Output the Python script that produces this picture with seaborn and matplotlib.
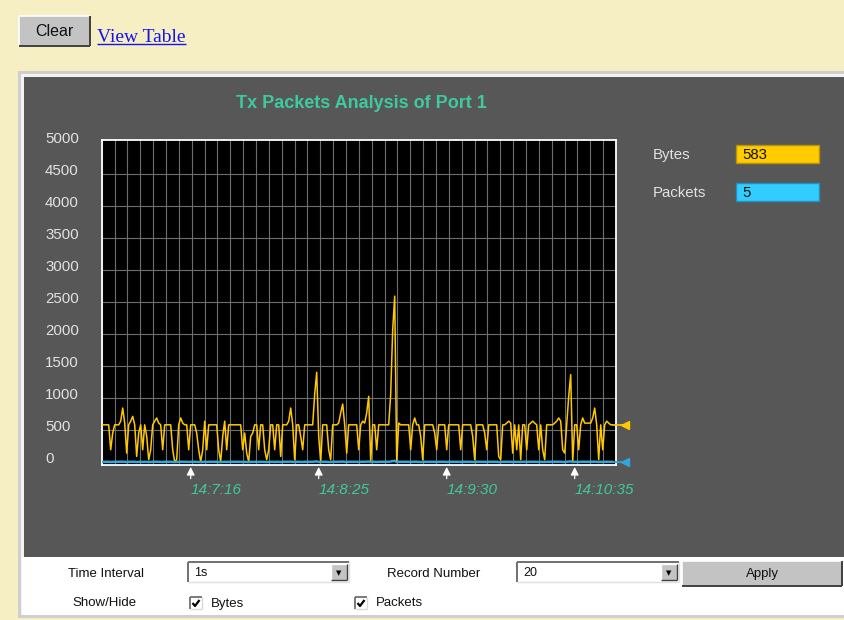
import numpy as np
import pandas as pd
import matplotlib
matplotlib.use("Agg")
import matplotlib.pyplot as plt
import seaborn as sns
from matplotlib.patches import Rectangle
from matplotlib.lines import Line2D
from matplotlib.transforms import ScaledTranslation

# ---------------------------------------------------------------- data
title = "Tx Packets Analysis of Port 1"

# bytes transmitted per 1 s sample
bytes_tx = [
    583, 583, 583, 583, 193, 454, 583, 583, 583, 640, 845, 610, 141, 583, 640, 715,
    583, 89, 454, 583, 193, 583, 402, 37, 193, 583, 640, 690, 610, 583, 193, 583,
    583, 583, 583, 193, 5, 37, 583, 690, 610, 583, 583, 193, 583, 583, 583, 454,
    193, 5, 193, 640, 193, 583, 583, 583, 583, 583, 193, 5, 402, 640, 193, 583,
    583, 583, 583, 583, 583, 583, 193, 454, 141, 5, 402, 454, 583, 583, 193, 583,
    583, 193, 37, 193, 583, 583, 193, 583, 583, 89, 583, 583, 583, 640, 845, 583,
    37, 583, 583, 402, 193, 583, 583, 583, 583, 583, 1065, 1404, 402, 5, 583, 583,
    583, 193, 37, 583, 583, 583, 610, 770, 908, 583, 141, 583, 583, 583, 583, 583,
    193, 583, 640, 610, 770, 1028, 5, 583, 583, 193, 583, 583, 583, 583, 583, 583,
    1065, 2072, 2594, 5, 610, 583, 583, 583, 583, 583, 193, 583, 690, 583, 583, 402,
    37, 583, 583, 583, 583, 583, 454, 193, 583, 583, 583, 583, 193, 583, 583, 583,
    583, 583, 583, 193, 583, 583, 583, 583, 583, 402, 37, 583, 583, 583, 583, 454,
    193, 583, 583, 583, 583, 583, 89, 37, 583, 583, 610, 640, 610, 141, 583, 193,
    583, 37, 583, 583, 193, 583, 610, 640, 610, 583, 193, 583, 193, 37, 583, 583,
    583, 583, 610, 640, 690, 640, 193, 141, 583, 1028, 1367, 5, 583, 583, 193, 583,
    690, 610, 610, 610, 610, 690, 845, 583, 37, 583, 193, 583, 640, 610, 583, 583,
]

# packets transmitted per 1 s sample
packets_tx = [
    5, 5, 5, 5, 2, 4, 5, 5, 5, 6, 7, 5, 1, 5, 6, 6,
    5, 1, 4, 5, 2, 5, 3, 1, 2, 5, 6, 6, 5, 5, 2, 5,
    5, 5, 5, 2, 0, 1, 5, 6, 5, 5, 5, 2, 5, 5, 5, 4,
    2, 0, 2, 6, 2, 5, 5, 5, 5, 5, 2, 0, 3, 6, 2, 5,
    5, 5, 5, 5, 5, 5, 2, 4, 1, 0, 3, 4, 5, 5, 2, 5,
    5, 2, 1, 2, 5, 5, 2, 5, 5, 1, 5, 5, 5, 6, 7, 5,
    1, 5, 5, 3, 2, 5, 5, 5, 5, 5, 9, 11, 3, 0, 5, 5,
    5, 2, 1, 5, 5, 5, 5, 7, 8, 5, 1, 5, 5, 5, 5, 5,
    2, 5, 6, 5, 7, 9, 0, 5, 5, 2, 5, 5, 5, 5, 5, 5,
    9, 16, 20, 0, 5, 5, 5, 5, 5, 5, 2, 5, 6, 5, 5, 3,
    1, 5, 5, 5, 5, 5, 4, 2, 5, 5, 5, 5, 2, 5, 5, 5,
    5, 5, 5, 2, 5, 5, 5, 5, 5, 3, 1, 5, 5, 5, 5, 4,
    2, 5, 5, 5, 5, 5, 1, 1, 5, 5, 5, 6, 5, 1, 5, 2,
    5, 1, 5, 5, 2, 5, 5, 6, 5, 5, 2, 5, 2, 1, 5, 5,
    5, 5, 5, 6, 6, 6, 2, 1, 5, 9, 11, 0, 5, 5, 2, 5,
    6, 5, 5, 5, 5, 6, 7, 5, 1, 5, 2, 5, 6, 5, 5, 5,
]

y_ticks = [0, 500, 1000, 1500, 2000, 2500, 3000, 3500, 4000, 4500, 5000]
time_positions = [44, 108, 172, 236]
time_labels = ["14:7:16", "14:8:25", "14:9:30", "14:10:35"]

current_bytes = 583
current_packets = 5
time_interval = "1s"
record_number = "20"

# ---------------------------------------------------------------- style
BYTES_COLOR = "#FFC800"
PACKETS_COLOR = "#2EA8DC"
PAGE_BG = "#F6EFC4"
PANEL_BG = "#575757"
GRID = "#6E6E6E"
TEAL = "#3FC99E"

sns.set_theme(style="dark")
plt.rcParams["font.family"] = ["Liberation Sans", "DejaVu Sans"]

W, H = 845, 620
fig = plt.figure(figsize=(W / 100, H / 100), dpi=100, facecolor=PAGE_BG)


def fx(x):
    return x / W


def fy(y):
    return 1 - y / H


def box(x0, y0, x1, y1, z=-2, **kw):
    r = Rectangle((fx(x0), fy(y1)), fx(x1) - fx(x0), fy(y0) - fy(y1),
                  transform=fig.transFigure, zorder=z, **kw)
    fig.add_artist(r)
    return r


def seg(xs, ys, color, lw=1.0, z=2):
    fig.add_artist(Line2D([fx(v) for v in xs], [fy(v) for v in ys],
                          transform=fig.transFigure, color=color, lw=lw,
                          zorder=z, solid_capstyle="butt"))


def raised_button(x0, y0, x1, y1, label, size):
    box(x0, y0, x1, y1, z=1, facecolor="#C3C3C3", edgecolor="none")
    seg([x0, x1], [y0, y0], "white", 1.2)
    seg([x0, x0], [y0, y1], "white", 1.2)
    seg([x0, x1], [y1, y1], "#404040", 1.4)
    seg([x1, x1], [y0, y1], "#404040", 1.4)
    fig.text(fx((x0 + x1) / 2), fy((y0 + y1) / 2), label, ha="center",
             va="center", fontsize=size, color="#111111")


def dropdown(x0, y0, x1, y1, value):
    box(x0, y0, x1, y1, z=1, facecolor="white", edgecolor="none")
    seg([x0, x1], [y0, y0], "#707070", 1.4)
    seg([x0, x0], [y0, y1], "#707070", 1.4)
    seg([x0, x1], [y1, y1], "#E0E0E0", 1.0)
    seg([x1, x1], [y0, y1], "#E0E0E0", 1.0)
    fig.text(fx(x0 + 6), fy((y0 + y1) / 2 + 1.5), value, va="center",
             fontsize=9, color="#111111")
    bx0, bx1 = x1 - 18, x1 - 2
    box(bx0, y0 + 2, bx1, y1 - 2, z=1, facecolor="#C3C3C3", edgecolor="none")
    seg([bx0, bx1], [y0 + 2, y0 + 2], "white", 1.0)
    seg([bx0, bx0], [y0 + 2, y1 - 2], "white", 1.0)
    seg([bx0, bx1], [y1 - 2, y1 - 2], "#404040", 1.0)
    seg([bx1, bx1], [y0 + 2, y1 - 2], "#404040", 1.0)
    fig.text(fx((bx0 + bx1) / 2), fy((y0 + y1) / 2 + 1), "\u25bc",
             ha="center", va="center", fontsize=5, color="black",
             family="DejaVu Sans")


def checkbox(x0, y0, label):
    x1, y1 = x0 + 12, y0 + 12
    box(x0, y0, x1, y1, z=1, facecolor="white", edgecolor="none")
    seg([x0, x1], [y0, y0], "#707070", 1.3)
    seg([x0, x0], [y0, y1], "#707070", 1.3)
    seg([x0, x1], [y1, y1], "#DADADA", 1.0)
    seg([x1, x1], [y0, y1], "#DADADA", 1.0)
    seg([x0 + 2.5, x0 + 5, x0 + 9.5], [y0 + 6, y0 + 9, y0 + 3], "black", 1.6, z=3)
    fig.text(fx(x1 + 9), fy(y0 + 6.5), label, va="center", fontsize=9.5,
             color="#111111")


# ---------------------------------------------------------------- page
raised_button(19, 16, 90, 46, "Clear", 11.5)
fig.text(fx(97), fy(42), "View Table", fontsize=14, color="#1515E8",
         family=["Liberation Serif", "DejaVu Serif"], va="baseline")
seg([97, 186], [44, 44], "#1515E8", 1.0)

# outer frame, dark chart panel and the white control strip
box(18, 71, 846, 618, facecolor="#CFCFCF", edgecolor="none", z=-4)
box(21, 74, 846, 615, facecolor="#F2F2F2", edgecolor="none", z=-3)
box(24, 77, 846, 557, facecolor=PANEL_BG, edgecolor="none")
box(22, 557, 846, 615, facecolor="white", edgecolor="none")

fig.text(fx(361), fy(103), title, ha="center", va="center", fontsize=13,
         fontweight="bold", color=TEAL)

# ---------------------------------------------------------------- chart
ax_left, ax_right, ax_top, ax_bottom = 101.7, 616, 140, 465
ax = fig.add_axes([fx(ax_left), fy(ax_bottom), fx(ax_right) - fx(ax_left),
                   fy(ax_top) - fy(ax_bottom)])
ax.set_facecolor("black")

df = pd.DataFrame({
    "second": np.arange(len(bytes_tx)),
    "Bytes": bytes_tx,
    "Packets": packets_tx,
})

x_lo, x_hi = -0.5, 256.65
y_lo, y_hi = -45, 5035
ax.set_xlim(x_lo, x_hi)
ax.set_ylim(y_lo, y_hi)

ax.grid(False)
ax.vlines(np.linspace(x_lo, x_hi, 41), y_lo, y_hi, color=GRID, lw=0.8,
          zorder=1)
ax.hlines(y_ticks[1:-1], x_lo, x_hi, color=GRID, lw=0.8, zorder=1)

sns.lineplot(data=df, x="second", y="Bytes", color=BYTES_COLOR, lw=1.1,
             ax=ax, zorder=3)
sns.lineplot(data=df, x="second", y="Packets", color=PACKETS_COLOR, lw=1.8,
             ax=ax, zorder=4)

# current-value pointers on the right edge
last = len(bytes_tx) - 1
for val, col in ((current_bytes, BYTES_COLOR), (current_packets, PACKETS_COLOR)):
    ax.plot([last, last + 6], [val, val], color=col, lw=1.2, clip_on=False,
            zorder=5)
    ax.plot([last + 6], [val], marker="<", ms=6, color=col, mec=col,
            clip_on=False, zorder=5)

for side in ax.spines.values():
    side.set_color("white")
    side.set_linewidth(1.3)
    side.set_visible(True)

ax.set_xlabel("")
ax.set_ylabel("")

ax.set_yticks(y_ticks)
ax.set_yticklabels([str(v) for v in y_ticks])
ax.tick_params(axis="y", length=0, pad=40.8, labelcolor="#E2E2E2",
               labelsize=10.8)
ax.set_xticks(time_positions)
ax.set_xticklabels(time_labels)
ax.tick_params(axis="x", length=0, pad=13, labelcolor=TEAL, labelsize=11)

up = ScaledTranslation(0, 5 / 100, fig.dpi_scale_trans)
for lab in ax.get_yticklabels():
    lab.set_horizontalalignment("left")
    lab.set_transform(lab.get_transform() + up)
for lab in ax.get_xticklabels():
    lab.set_horizontalalignment("left")
    lab.set_fontstyle("italic")

for t in time_positions:
    ax.annotate("", xy=(t, -0.006), xytext=(t, -0.042),
                xycoords=ax.get_xaxis_transform(),
                textcoords=ax.get_xaxis_transform(),
                arrowprops=dict(arrowstyle="-|>,head_length=0.4,head_width=0.2",
                                color="white", lw=0.9, shrinkA=0, shrinkB=0),
                annotation_clip=False)

# ---------------------------------------------------------------- readouts
for label, val, y0, fill, edge in (
        ("Bytes", current_bytes, 145, "#FFCC00", "#B8920A"),
        ("Packets", current_packets, 183, "#33CCFF", "#2290C0")):
    fig.text(fx(653), fy(y0 + 9.5), label, va="center", fontsize=10.8,
             color="#E2E2E2")
    box(736, y0, 819, y0 + 18, z=1, facecolor=fill, edgecolor=edge, lw=1.0)
    fig.text(fx(742), fy(y0 + 9.5), str(val), va="center", fontsize=10.8,
             color="#111111", zorder=4)

# ---------------------------------------------------------------- controls
fig.text(fx(68), fy(574), "Time Interval", va="center", fontsize=9.5,
         color="#111111")
dropdown(188, 562, 349, 582, time_interval)
fig.text(fx(387), fy(574), "Record Number", va="center", fontsize=9.5,
         color="#111111")
dropdown(517, 562, 679, 582, record_number)
raised_button(682, 561, 842, 586, "Apply", 9.5)

fig.text(fx(72), fy(603.5), "Show/Hide", va="center", fontsize=9.5,
         color="#111111")
checkbox(190, 597, "Bytes")
checkbox(355, 597, "Packets")

fig.savefig("out.png", dpi=100, facecolor=fig.get_facecolor())
